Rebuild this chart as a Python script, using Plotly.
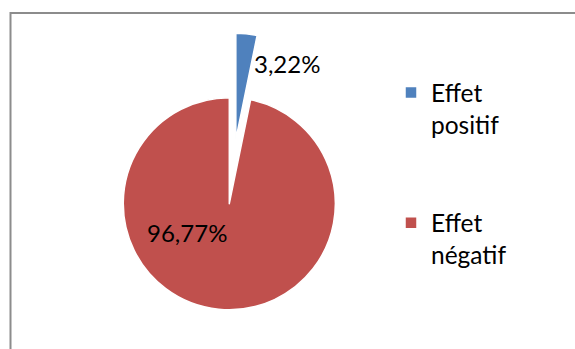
import plotly.graph_objects as go

# ---- data ----
names = ["Effet positif", "Effet négatif"]
labels = ["Effet<br>positif<br>&nbsp;<br>&nbsp;", "Effet<br>négatif<br>&nbsp;<br>&nbsp;"]
values = [3.22, 96.77]
colors = ["#4F81BD", "#C0504D"]
pulls = [0.61, 0.0]
pct_text = [f"{v:.2f}%".replace(".", ",") for v in values]

W, H = 575, 380
FONT = "Lato, 'Open Sans', sans-serif"

def px(x):
    return x / W

def py(y):
    return 1 - y / H

fig = go.Figure(
    go.Pie(
        labels=labels,
        values=values,
        customdata=names,
        pull=pulls,
        sort=False,
        direction="clockwise",
        rotation=0,
        textinfo="none",
        hovertemplate="%{customdata}: %{percent}<extra></extra>",
        marker=dict(colors=colors, line=dict(color="white", width=1.5)),
        domain=dict(x=[px(58.6), px(400.0)], y=[py(374.4), py(33.0)]),
    )
)

# percentage labels
label_pos = [(286.5, 63.5), (186.5, 232.0)]
for t, (lx, ly) in zip(pct_text, label_pos):
    fig.add_annotation(
        x=px(lx), y=py(ly), xref="paper", yref="paper",
        text=t, showarrow=False, xanchor="center", yanchor="middle",
        font=dict(family=FONT, size=24, color="black"),
    )

# chart-area border (extends beyond the visible window, as in the reference)
fig.add_shape(
    type="rect", xref="paper", yref="paper",
    x0=px(10.5), x1=px(W + 20), y0=py(H + 20), y1=py(13),
    line=dict(color="#8C8C8C", width=2), fillcolor="rgba(0,0,0,0)", layer="below",
)

fig.update_layout(
    width=W, height=H,
    margin=dict(l=0, r=0, t=0, b=0),
    paper_bgcolor="white", plot_bgcolor="white",
    font=dict(family=FONT, size=24.5, color="black"),
    showlegend=True,
    legend=dict(
        x=px(391), y=py(70), xanchor="left", yanchor="top",
        valign="top",
        font=dict(family=FONT, size=24.5, color="black"),
        bgcolor="rgba(0,0,0,0)",
    ),
)

fig.write_html(
    "out.html",
    post_script="document.body.style.margin='0';document.body.style.overflow='hidden';document.documentElement.style.overflow='hidden';",
)
